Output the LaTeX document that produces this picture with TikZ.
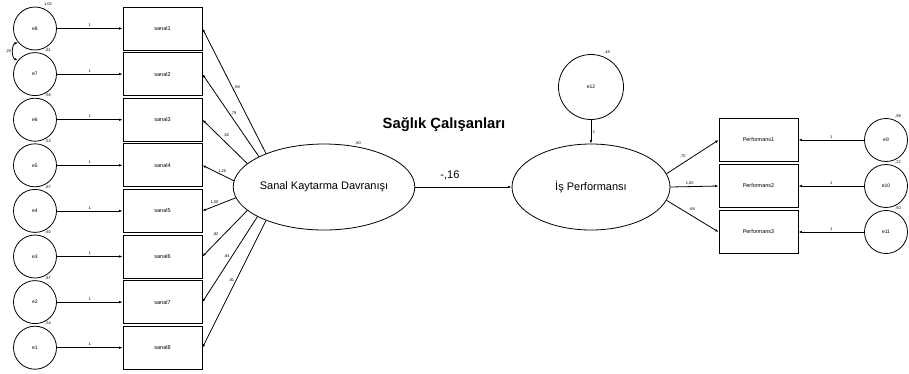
\documentclass[tikz,border=0pt]{standalone}
\usepackage{fontspec}
\setmainfont{Liberation Sans}
\usetikzlibrary{arrows.meta,shapes.geometric}

\begin{document}
\begin{tikzpicture}[x=1pt,y=-1pt,line width=0.8pt]
  \tikzset{err/.style={draw,circle,minimum size=43pt,inner sep=0pt,font=\fontsize{5}{6}\selectfont},
    item/.style={draw,minimum width=79pt,minimum height=43pt,inner sep=0pt,font=\fontsize{5.5}{6}\selectfont},
    factor/.style={draw,ellipse,minimum width=158pt,minimum height=86pt,inner sep=0pt,font=\fontsize{11}{13}\selectfont},
    tip/.tip={Latex[length=3.5pt,width=2.5pt]},
    arr/.style={-tip},
    est/.style={font=\fontsize{4}{4}\selectfont,inner sep=1.5pt}}
  \useasboundingbox (0,0) rectangle (909,373);
  \node[factor] (skd) at (324,187) {Sanal Kaytarma Davranışı};
  \node[factor] (ip) at (591,187) {İş Performansı};
  \node[font=\bfseries\fontsize{14.8}{17}\selectfont] (title) at (444,125) {Sağlık Çalışanları};
  \node[est] at (358,143) {,80};
  \draw[arr] (skd) -- node[pos=.36,above=3pt,font=\fontsize{11}{13}\selectfont]{-,16} (ip);
  \foreach \n/\e/\v/\w/\a/\t/\an [count=\i from 0] in {
      1/8/{1,02}/{,68}/150/.53/west, 2/7/{,81}/{,79}/155/.53/west,
      3/6/{,56}/{,82}/163/.57/south west, 4/5/{,53}/{1,20}/176/.37/south,
      5/4/{,87}/{1,00}/187/.64/south, 6/3/{,92}/{,82}/197/.6/south east,
      7/2/{,87}/{,84}/204/.47/east, 8/1/{,54}/{,81}/210/.47/east}{
    \node[err] (e\e) at (35,{28.5+45.6*\i}) {e\e};
    \node[item] (s\n) at (162.5,{28.5+45.6*\i}) {sanal\n};
    \node[est] at ([shift={(13,-24)}]e\e) {\v};
    \draw[arr] (e\e) -- node[est,above]{1} (s\n);
    \draw[arr] (skd.\a) -- node[est,pos=\t,anchor=\an]{\w} (s\n.east);
  }
  \draw[tip-tip] (e8.219) to[out=200,in=160] node[est,left]{,20} (e7.141);
  \foreach \n/\e/\v/\w/\a/\an [count=\i from 0] in {
      1/9/{,98}/{,70}/10/south east, 2/10/{,22}/{1,00}/0/south,
      3/11/{,50}/{,68}/-10/south west}{
    \node[item] (p\n) at (758.5,{140+46*\i}) {Performans\n};
    \node[err] (e\e) at (886,{140+46*\i}) {e\e};
    \node[est] at ([shift={(12,-24)}]e\e) {\v};
    \draw[arr] (e\e) -- node[est,above]{1} (p\n);
    \draw[arr] (ip.\a) -- node[est,pos=.4,anchor=\an]{\w} (p\n.west);
  }
  \node[err,minimum size=65pt] (e12) at (591,87) {e12};
  \node[est] at ([shift={(16,-35)}]e12) {,48};
  \draw[arr] (e12) -- node[est,right]{1} (ip);
\end{tikzpicture}
\end{document}
